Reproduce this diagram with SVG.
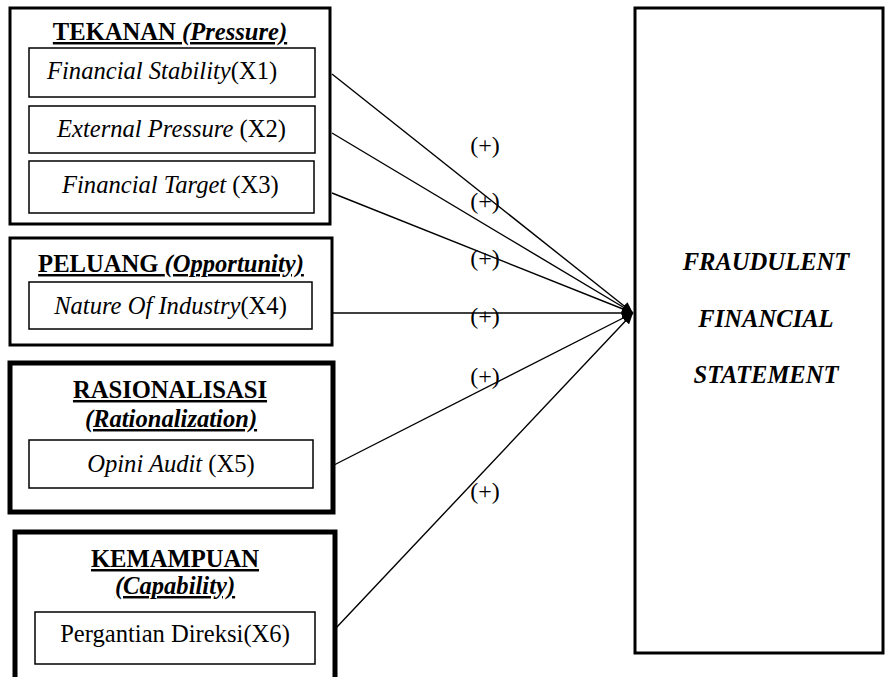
<svg xmlns="http://www.w3.org/2000/svg" width="885" height="677" viewBox="0 0 885 677">
<style>
text{font-family:"Liberation Serif","Times New Roman",serif;font-size:24.6px;fill:#000}
.t{font-weight:bold;text-decoration:underline}
.bi{font-weight:bold;font-style:italic}
.i{font-style:italic}
.c{text-anchor:middle}
.outer{fill:#fff;stroke:#000;stroke-width:3}
.outer2{fill:#fff;stroke:#000;stroke-width:5}
.inner{fill:#fff;stroke:#000;stroke-width:1.5}
.edge{stroke:#000;stroke-width:1.4;fill:none;marker-end:url(#ah)}
.lbl{font-size:24px;text-anchor:middle}
</style>
<defs>
<marker id="ah" markerUnits="userSpaceOnUse" markerWidth="12" markerHeight="10" refX="11" refY="5" orient="auto">
<path d="M0,0 L11,5 L0,10 z" fill="#000"/>
</marker>
</defs>
<rect x="0" y="0" width="885" height="677" fill="#fff"/>
<g id="tekanan">
<rect class="outer" x="10" y="8" width="320" height="216"/>
<text class="t c" x="170" y="40">TEKANAN <tspan font-style="italic">(Pressure)</tspan></text>
<rect class="inner" x="29" y="48" width="286" height="49"/>
<text x="47" y="79"><tspan class="i">Financial Stability</tspan>(X1)</text>
<rect class="inner" x="29" y="106" width="286" height="47"/>
<text x="57" y="137"><tspan class="i">External Pressure </tspan>(X2)</text>
<rect class="inner" x="29" y="161" width="285" height="52"/>
<text x="62" y="193"><tspan class="i">Financial Target </tspan>(X3)</text>
</g>
<g id="peluang">
<rect class="outer" x="10" y="238" width="322" height="107"/>
<text class="t c" x="171" y="272">PELUANG <tspan font-style="italic">(Opportunity)</tspan></text>
<rect class="inner" x="29" y="282" width="283" height="47"/>
<text class="c" x="170.5" y="314"><tspan class="i">Nature Of Industry</tspan>(X4)</text>
</g>
<g id="rasionalisasi">
<rect class="outer2" x="10" y="363" width="323" height="149"/>
<text class="t c" x="170" y="398">RASIONALISASI</text>
<text class="t c" x="171" y="427" font-style="italic">(Rationalization)</text>
<rect class="inner" x="29" y="440" width="284" height="48"/>
<text class="c" x="171" y="472"><tspan class="i">Opini Audit </tspan>(X5)</text>
</g>
<g id="kemampuan">
<rect class="outer2" x="15" y="532" width="320" height="160"/>
<text class="t c" x="175" y="567">KEMAMPUAN</text>
<text class="t c" x="175" y="594" font-style="italic">(Capability)</text>
<rect class="inner" x="35" y="612" width="280" height="52"/>
<text class="c" x="175" y="642">Pergantian Direksi(X6)</text>
</g>
<g id="fraud">
<rect class="outer" x="635" y="8" width="248" height="645"/>
<text class="bi c" x="766" y="270">FRAUDULENT</text>
<text class="bi c" x="766" y="327">FINANCIAL</text>
<text class="bi c" x="766" y="383">STATEMENT</text>
</g>
<g id="connectors">
<line class="edge" x1="332" y1="74" x2="633" y2="313"/>
<line class="edge" x1="332" y1="133" x2="633" y2="313"/>
<line class="edge" x1="332" y1="193" x2="633" y2="313"/>
<line class="edge" x1="333" y1="313" x2="633" y2="313"/>
<line class="edge" x1="334" y1="465" x2="633" y2="313"/>
<line class="edge" x1="336" y1="628" x2="633" y2="313"/>
<text class="lbl" x="485" y="153">(+)</text>
<text class="lbl" x="485" y="209">(+)</text>
<text class="lbl" x="485" y="266">(+)</text>
<text class="lbl" x="485" y="324">(+)</text>
<text class="lbl" x="485" y="384">(+)</text>
<text class="lbl" x="485" y="499">(+)</text>
</g>
</svg>
